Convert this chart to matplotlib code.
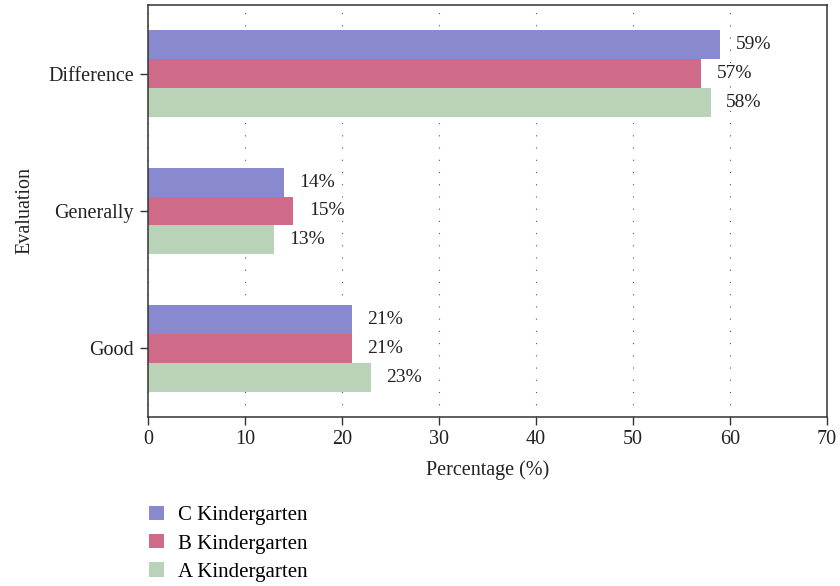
import matplotlib
matplotlib.use("Agg")
import matplotlib.pyplot as plt
import numpy as np
from matplotlib.patches import Patch

plt.rcParams['font.family'] = ['Liberation Serif', 'DejaVu Serif']

categories = ["Good", "Generally", "Difference"]
series_names = ["C Kindergarten", "B Kindergarten", "A Kindergarten"]
c_values = [21, 14, 59]
b_values = [21, 15, 57]
a_values = [23, 13, 58]
colors = ["#8989d0", "#cf6b89", "#bad2b8"]
x_ticks = [0, 10, 20, 30, 40, 50, 60, 70]

fig = plt.figure(figsize=(8.4, 5.86), dpi=100)
ax = fig.add_axes([0.176, 0.2884, 0.8085, 0.7031])

y = np.arange(len(categories))
h = 0.21
offsets = [h, 0.0, -h]
for vals, off, col, name in zip([c_values, b_values, a_values], offsets, colors, series_names):
    ax.barh(y + off, vals, height=h, color=col, label=name, zorder=2)
    for yi, v in zip(y, vals):
        ax.text(v + 1.6, yi + off, f"{v}%", va="center", ha="left", fontsize=14, color="#222222")

ax.set_xlim(0, 70)
ax.set_ylim(-0.5, 2.5)
ax.set_xticks(x_ticks)
ax.set_yticks(y)
ax.set_yticklabels(categories)
ax.tick_params(axis="both", labelsize=14.5, direction="out", length=6, width=1, colors="#333333", labelcolor="#222222")
ax.tick_params(axis="y", pad=4)
ax.xaxis.grid(True, linestyle=(0, (1, 10)), linewidth=0.8, color="#555555", zorder=0)
ax.set_axisbelow(True)
for s in ax.spines.values():
    s.set_linewidth(1.1)
    s.set_color("#333333")

ax.set_xlabel("Percentage (%)", fontsize=14.5, color="#222222", labelpad=8)
ax.set_ylabel("Evaluation", fontsize=14.5, color="#222222", labelpad=10)

handles = [Patch(facecolor=c, edgecolor="none") for c in colors]
fig.legend(handles, series_names, loc="upper left", bbox_to_anchor=(0.168, 0.151),
           frameon=False, fontsize=15, handlelength=0.68, handleheight=0.68,
           handletextpad=0.68, labelspacing=0.42, borderaxespad=0)

fig.savefig("out.png", dpi=100)
